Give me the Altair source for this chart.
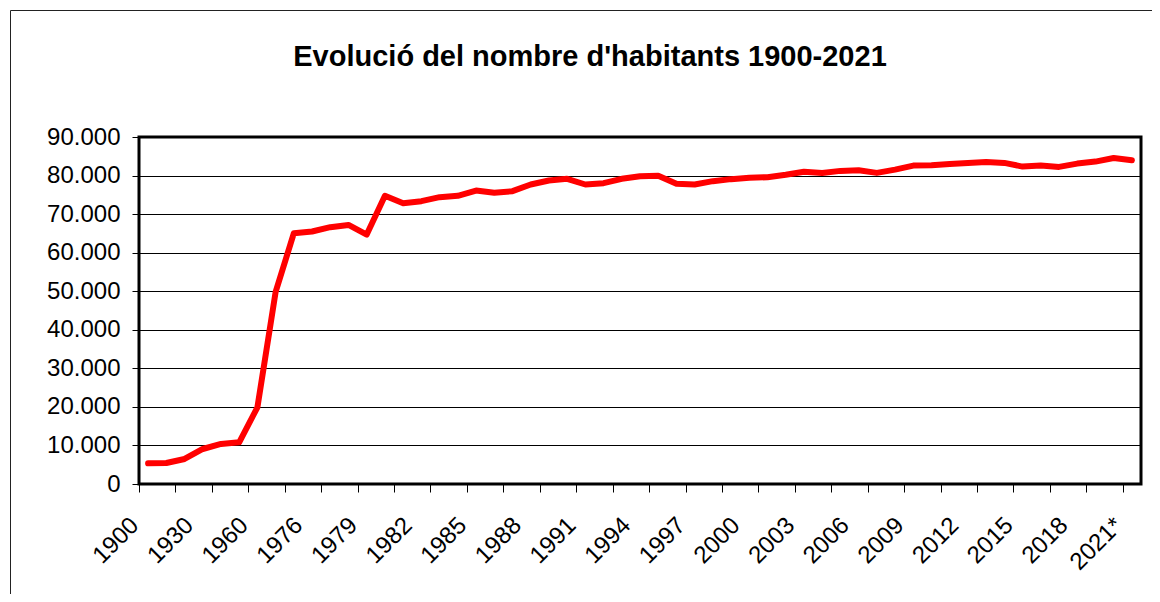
import json
import altair as alt
import pandas as pd

# Categories of the x axis (as in the original spreadsheet)
categories = [
    "1900", "1910", "1920", "1930", "1940", "1950", "1960", "1970", "1975",
    "1976", "1977", "1978", "1979", "1980", "1981", "1982", "1983", "1984",
    "1985", "1986", "1987", "1988", "1989", "1990", "1991", "1992", "1993",
    "1994", "1995", "1996", "1997", "1998", "1999", "2000", "2001", "2002",
    "2003", "2004", "2005", "2006", "2007", "2008", "2009", "2010", "2011",
    "2012", "2013", "2014", "2015", "2016", "2017", "2018", "2019", "2020",
    "2021*",
]

# Number of inhabitants
habitants = [
    5360, 5450, 6490, 9080, 10380, 10810, 19900, 49830, 65050,
    65480, 66610, 67200, 64700, 74740, 72840, 73360, 74390, 74740,
    76120, 75520, 75950, 77680, 78720, 79150, 77680, 78030, 79150,
    79840, 79930, 77850, 77680, 78550, 79070, 79410, 79580, 80190,
    80970, 80650, 81210, 81380, 80690, 81550, 82590, 82670, 83020,
    83280, 83530, 83280, 82330, 82590, 82240, 83100, 83620, 84570,
    83970,
]

y_ticks = [0, 10000, 20000, 30000, 40000, 50000, 60000, 70000, 80000, 90000]
title_text = "Evolució del nombre d'habitants 1900-2021"

n = len(categories)
df = pd.DataFrame({
    "pos": [i + 0.5 for i in range(n)],
    "any": categories,
    "habitants": habitants,
})

tick_positions = list(range(0, n, 2))
label_positions = [i + 0.5 for i in range(0, n, 3)]
x_values = sorted(tick_positions + label_positions)

FONT = "Liberation Sans"
W, H = 1002, 347

label_expr = (
    "floor(datum.value) === datum.value ? '' : "
    + json.dumps(categories) + "[floor(datum.value)]"
)

x_enc = alt.X(
    "pos:Q",
    scale=alt.Scale(domain=[0, n], nice=False, zero=False),
    axis=alt.Axis(
        title=None,
        values=x_values,
        labelExpr=label_expr,
        labelAngle=315,
        labelAlign="right",
        labelBaseline="top",
        labelOffset=-22,
        labelPadding=21,
        labelFont=FONT,
        labelFontSize=24,
        labelColor="#000000",
        labelOverlap=False,
        labelFlush=False,
        labelBound=False,
        ticks=True,
        tickSize=8,
        tickColor="#000000",
        tickWidth=1,
        tickOpacity={"condition": {"test": "floor(datum.value) === datum.value", "value": 1}, "value": 0},
        domain=False,
        grid=False,
    ),
)

y_enc = alt.Y(
    "habitants:Q",
    scale=alt.Scale(domain=[0, 90000], nice=False),
    axis=alt.Axis(
        title=None,
        values=y_ticks,
        labelExpr="replace(format(datum.value, ','), ',', '.')",
        labelFont=FONT,
        labelFontSize=24,
        labelColor="#000000",
        labelPadding=12,
        tickSize=7,
        tickColor="#000000",
        tickWidth=1,
        domain=False,
        grid=True,
        gridColor="#000000",
        gridWidth=1,
    ),
)

line = alt.Chart(df).mark_line(
    color="#ff0000", strokeWidth=6, strokeCap="round", strokeJoin="round"
).encode(x=x_enc, y=y_enc)

frame = alt.Chart(pd.DataFrame({"f": [0]})).mark_rect(
    fill="transparent", stroke="#222222", strokeWidth=1
).encode(
    x=alt.value(-128.5), y=alt.value(-126.5),
    x2=alt.value(2000), y2=alt.value(2000),
)

chart = alt.layer(frame, line).properties(
    width=W,
    height=H,
    background="#ffffff",
    autosize=alt.AutoSizeParams(type="none"),
    padding={"left": 131, "top": 129, "right": 11, "bottom": 110},
    title=alt.TitleParams(
        text=title_text,
        font=FONT,
        fontSize=29,
        fontWeight="bold",
        color="#000000",
        anchor="middle",
        frame="group",
        baseline="alphabetic",
        offset=-85,
        dx=-50,
    ),
).configure_view(
    stroke="#000000", strokeWidth=3
)

chart.save("out.html", embed_options={"renderer": "svg", "actions": False})
